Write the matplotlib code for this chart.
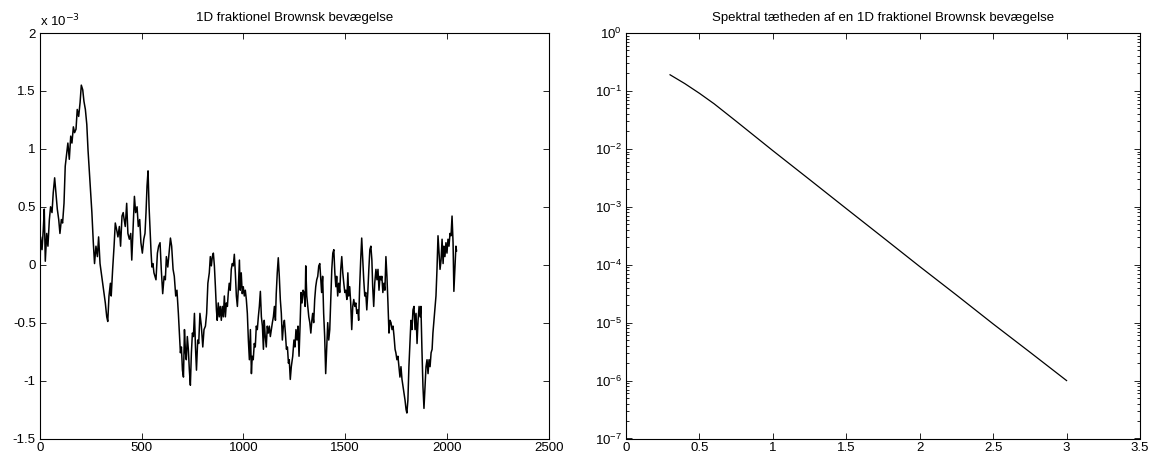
import matplotlib
matplotlib.use("Agg")
import matplotlib.pyplot as plt
from matplotlib.ticker import LogLocator, NullFormatter

plt.rcParams['font.family'] = ['Liberation Sans', 'DejaVu Sans']
plt.rcParams['axes.unicode_minus'] = False

# vertices of the fBm trace (sample index, value in units of 1e-3)
fbm_n = [1, 3, 10, 16, 21, 26, 33, 39, 46, 52, 59, 65, 72, 78, 85, 92, 98, 105, 111, 118,
         124, 131, 137, 144, 151, 157, 164, 170, 177, 183, 190, 197, 203, 210, 216, 223,
         230, 236, 242, 249, 255, 262, 268, 275, 282, 288, 295, 301, 308, 314, 321, 328,
         333, 339, 346, 350, 357, 364, 370, 377, 383, 390, 396, 403, 409,
         411, 419, 426, 432, 439, 446, 451, 457, 464, 470, 477, 483, 490, 496, 503, 510,
         516, 521, 526, 531, 536, 541, 546, 550, 555, 560, 565, 570, 577, 583, 590, 596,
         603, 610, 616, 621, 628, 634, 641, 647, 654, 660, 667, 673, 680, 685, 690, 695,
         700, 705, 710, 715, 719, 724, 729, 734, 739, 744, 749, 754, 759, 764, 769, 775,
         780, 786, 793, 800, 806, 813, 819,
         825, 832, 837, 842, 847, 852, 857, 862, 867, 871, 876, 881, 886, 891, 896, 901,
         906, 911, 916, 921, 925, 930, 935, 940, 945, 950, 955, 960, 965, 970, 975, 980,
         984, 989, 994, 999, 1004, 1009, 1014, 1019, 1024, 1029, 1034, 1039, 1043, 1048,
         1053, 1058, 1063, 1068, 1073, 1078, 1083, 1088, 1093, 1098, 1102, 1107, 1112,
         1117, 1122, 1127, 1132, 1137, 1142, 1147, 1152, 1157, 1161, 1166, 1171, 1176,
         1181, 1186, 1191, 1196, 1201, 1206, 1211, 1216, 1221, 1225, 1230, 1235,
         1242, 1248, 1253, 1258, 1263, 1268, 1273, 1278, 1283, 1288, 1293, 1298, 1303,
         1306, 1311, 1316, 1321, 1326, 1331, 1336, 1340, 1345, 1350, 1355, 1360, 1365,
         1370, 1375, 1380, 1384, 1389, 1394, 1399, 1404, 1409, 1414, 1419, 1424, 1429,
         1434, 1439, 1444, 1449, 1454, 1458, 1463, 1468, 1473, 1478, 1483, 1488, 1493,
         1498, 1503, 1508, 1513, 1517, 1522, 1527, 1532, 1537, 1542, 1547, 1552, 1557,
         1562, 1566, 1571, 1576, 1581, 1586, 1591, 1596, 1601, 1606, 1611, 1616, 1621,
         1626, 1631, 1635, 1640, 1645,
         1651, 1656, 1661, 1666, 1671, 1676, 1680, 1685, 1690, 1695, 1700, 1705, 1710,
         1715, 1720, 1725, 1730, 1735, 1740, 1745, 1749, 1754, 1759, 1764, 1769, 1774,
         1779, 1784, 1789, 1794, 1799, 1803, 1808, 1813, 1818, 1823, 1828, 1833, 1838,
         1843, 1848, 1853, 1858, 1863, 1868, 1872, 1877, 1882, 1887, 1892, 1897, 1902,
         1907, 1912, 1917, 1922, 1927, 1931, 1936, 1941, 1946, 1951, 1956, 1961, 1966,
         1971, 1976, 1981, 1985, 1990, 1995, 2000, 2005, 2010, 2015, 2020, 2025, 2030,
         2034, 2039, 2044, 2047]
fbm_val = [0.05, 0.24, 0.13, 0.30, 0.48, 0.03, 0.27, 0.16, 0.39, 0.50, 0.45, 0.62, 0.75, 0.62, 0.48, 0.39, 0.27, 0.39, 0.36, 0.53,
           0.85, 0.96, 1.05, 0.91, 1.11, 1.05, 1.19, 1.14, 1.17, 1.34, 1.28, 1.40, 1.55, 1.51, 1.41, 1.34,
           1.21, 0.99, 0.82, 0.62, 0.45, 0.19, 0.01, 0.16, 0.07, 0.24, 0.01, -0.07, -0.16, -0.25, -0.33, -0.45,
           -0.49, -0.27, -0.16, -0.27, -0.04, 0.16, 0.36, 0.30, 0.24, 0.33, 0.16, 0.42, 0.45,
           0.42, 0.33, 0.53, 0.27, 0.22, 0.27, 0.04, 0.30, 0.59, 0.45, 0.50, 0.33, 0.39, 0.19, 0.10, 0.22,
           0.27, 0.45, 0.68, 0.81, 0.50, 0.30, 0.10, -0.02, 0.01, -0.07, -0.10, -0.13, 0.10, 0.16, 0.19, -0.04,
           -0.25, -0.10, -0.13, 0.07, -0.02, 0.10, 0.23, 0.16, -0.04, -0.10, -0.27, -0.22, -0.42, -0.59, -0.76, -0.71,
           -0.91, -0.97, -0.56, -0.76, -0.82, -0.62, -0.73, -0.91, -1.04, -0.76, -0.59, -0.62, -0.42, -0.71, -0.91, -0.65,
           -0.68, -0.42, -0.53, -0.71, -0.56, -0.53, -0.42,
           -0.16, -0.07, 0.07, -0.01, 0.07, 0.10, -0.01, -0.19, -0.39, -0.48, -0.33, -0.45, -0.36, -0.48, -0.36, -0.45,
           -0.27, -0.45, -0.33, -0.36, -0.25, -0.16, -0.22, -0.04, 0.01, -0.01, 0.09, -0.07, -0.27, -0.36, -0.19, 0.04,
           -0.22, -0.07, -0.25, -0.19, -0.27, -0.22, -0.30, -0.42, -0.65, -0.82, -0.56, -0.94, -0.79, -0.82,
           -0.68, -0.71, -0.53, -0.56, -0.45, -0.36, -0.23, -0.45, -0.53, -0.73, -0.48, -0.62, -0.71,
           -0.53, -0.59, -0.53, -0.62, -0.56, -0.50, -0.45, -0.36, -0.48, -0.25, -0.07, 0.06, -0.10,
           -0.30, -0.42, -0.65, -0.53, -0.48, -0.59, -0.73, -0.71, -0.85, -0.82, -0.99, -0.88,
           -0.79, -0.65, -0.71, -0.56, -0.65, -0.53, -0.79, -0.53, -0.24, -0.33, -0.22, -0.24, -0.36,
           -0.01, -0.27, -0.36, -0.45, -0.50, -0.59, -0.48, -0.42, -0.50, -0.30, -0.19, -0.13, -0.10,
           -0.01, 0.01, -0.13, -0.24, -0.10, -0.42, -0.62, -0.94, -0.71, -0.50, -0.65, -0.56, -0.30,
           -0.04, 0.10, 0.13, -0.07, -0.19, -0.10, -0.27, -0.16, -0.24, -0.04, 0.07, -0.07, -0.16,
           -0.24, -0.22, -0.30, -0.07, -0.27, -0.19, -0.33, -0.56, -0.36, -0.30, -0.36, -0.33, -0.42,
           -0.39, -0.48, -0.19, 0.04, 0.23, 0.04, -0.13, -0.27, -0.24, -0.39, -0.24, -0.04, 0.13,
           0.16, 0.04, -0.19, -0.36, -0.16,
           -0.04, -0.13, -0.04, -0.22, -0.10, -0.13, -0.10, -0.24, -0.16, -0.22, 0.07, -0.10, -0.33,
           -0.59, -0.48, -0.50, -0.56, -0.53, -0.62, -0.73, -0.76, -0.82, -0.79, -0.88, -0.97, -0.88,
           -0.99, -1.05, -1.11, -1.17, -1.25, -1.28, -1.17, -0.88, -0.68, -0.48, -0.56, -0.39, -0.36,
           -0.56, -0.42, -0.68, -0.48, -0.36, -0.45, -0.36, -0.73, -1.05, -1.24, -1.05, -0.88, -0.82,
           -0.94, -0.82, -0.88, -0.76, -0.73, -0.59, -0.48, -0.36, -0.27, -0.04, 0.25, 0.10, -0.04,
           0.04, 0.22, 0.01, 0.16, 0.07, 0.19, 0.10, 0.22, 0.16, 0.27, 0.25, 0.42, 0.19,
           -0.23, -0.04, 0.16, 0.12]

# spectral density
freq = [0.3, 0.4, 0.5, 0.6, 0.75, 1.0, 1.25, 1.5, 1.75, 2.0, 2.25, 2.5, 2.75, 3.0]
density = [0.19, 0.134, 0.091, 0.060, 0.030, 0.0093, 0.00295, 9.3e-4, 2.95e-4, 9.3e-5,
           3.0e-5, 9.5e-6, 3.1e-6, 1.0e-6]
log_ticks = [1e-7, 1e-6, 1e-5, 1e-4, 1e-3, 1e-2, 1e-1, 1]

fig = plt.figure(figsize=(11.59, 4.58), dpi=100)
ax1 = fig.add_axes([40/1159, 19.5/458, 508.7/1159, 405.5/458])
ax2 = fig.add_axes([626/1159, 19.5/458, 514/1159, 405.5/458])

ax1.plot(fbm_n, fbm_val, color='k', linewidth=1.1)
ax1.set_xlim(0, 2500)
ax1.set_ylim(-1.5, 2)
ax1.set_xticks([0, 500, 1000, 1500, 2000, 2500])
ax1.set_yticks([-1.5, -1, -0.5, 0, 0.5, 1, 1.5, 2])
ax1.set_yticklabels(['-1.5', '-1', '-0.5', '0', '0.5', '1', '1.5', '2'])
ax1.set_title('1D fraktionel Brownsk bevægelse', fontsize=9.5, pad=9)
ax1.text(0.0, 1.01, r'x 10$^{-3}$', transform=ax1.transAxes, fontsize=9.5,
         ha='left', va='bottom')

ax2.semilogy(freq, density, color='k', linewidth=0.9)
ax2.set_xlim(0, 3.5)
ax2.set_ylim(1e-7, 1)
ax2.set_xticks([0, 0.5, 1, 1.5, 2, 2.5, 3, 3.5])
ax2.set_xticklabels(['0', '0.5', '1', '1.5', '2', '2.5', '3', '3.5'])
ax2.set_yticks(log_ticks)
ax2.yaxis.set_minor_locator(LogLocator(base=10, subs=range(2, 10), numticks=20))
ax2.yaxis.set_minor_formatter(NullFormatter())
ax2.set_title('Spektral tætheden af en 1D fraktionel Brownsk bevægelse', fontsize=9.5, pad=9)

for ax in (ax1, ax2):
    ax.tick_params(which='both', direction='in', top=True, right=True, labelsize=9.5, width=0.6)
    ax.tick_params(which='major', length=4)
    ax.tick_params(which='minor', length=2)
    ax.tick_params(axis='x', pad=2.5)
    ax.tick_params(axis='y', pad=3)
    for s in ax.spines.values():
        s.set_linewidth(0.8)

fig.savefig('out.png', dpi=100)
